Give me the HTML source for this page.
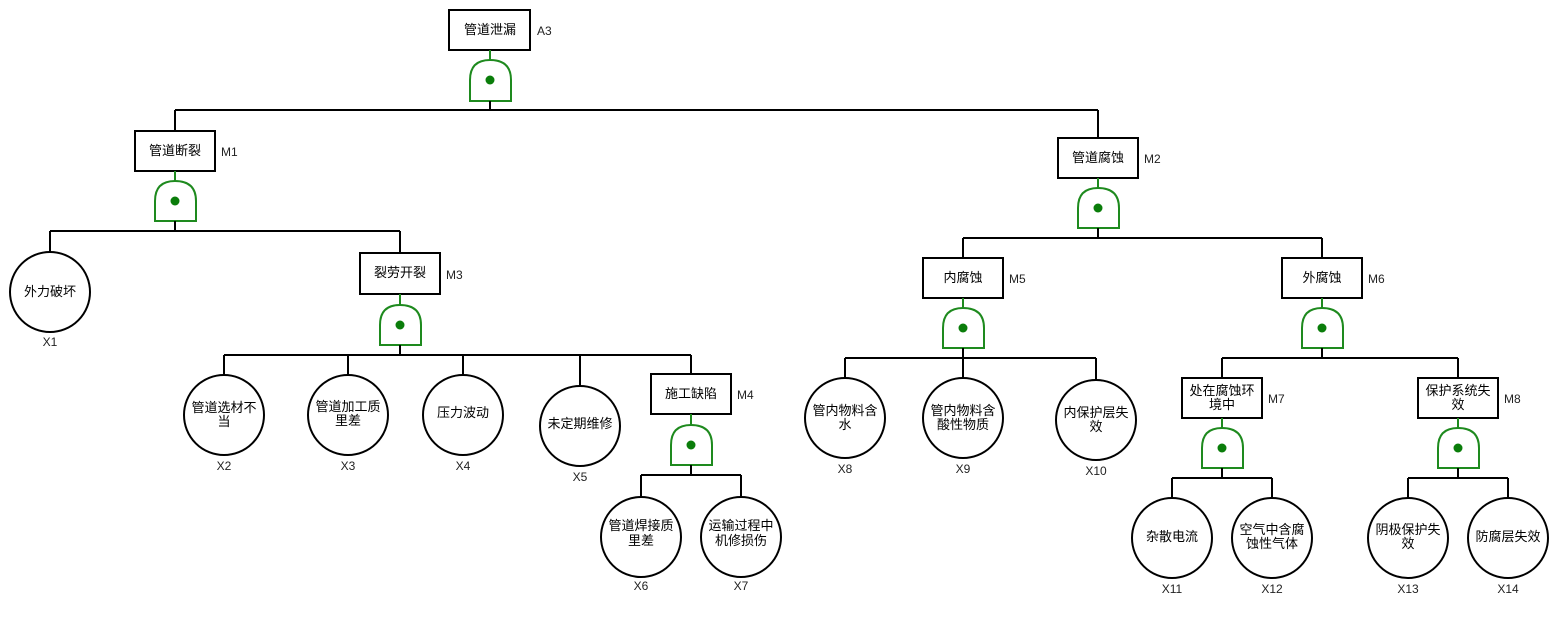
<!DOCTYPE html>
<html><head><meta charset="utf-8"><style>
html,body{margin:0;padding:0;background:#fff;}
svg{display:block;font-family:"Liberation Sans","Noto Sans CJK SC",sans-serif;}
.b{fill:#fff;stroke:#000;stroke-width:2}
.l{stroke:#000;stroke-width:2;fill:none}
.g{fill:#fff;stroke:#1e8a1e;stroke-width:2}
.gl{stroke:#1e8a1e;stroke-width:2}
.d{fill:#0a7d0a}
text{font-size:13px;fill:#000}
.c{text-anchor:middle}
.s{font-size:12px;fill:#222}
</style></head><body>
<svg width="1558" height="638" viewBox="0 0 1558 638">
<!-- A3 -->
<rect class="b" x="449" y="10" width="81" height="40"/>
<text class="c" x="490" y="34">管道泄漏</text><text class="s" x="537" y="35">A3</text>
<line class="gl" x1="490" y1="50" x2="490" y2="60"/>
<path class="g" d="M470,101 V80 Q470,60 490,60 Q511,60 511,80 V101 Z"/><circle class="d" cx="490" cy="80" r="4.5"/>
<line class="l" x1="490" y1="101" x2="490" y2="110"/>
<line class="l" x1="175" y1="110" x2="1098" y2="110"/>
<line class="l" x1="175" y1="110" x2="175" y2="131"/>
<line class="l" x1="1098" y1="110" x2="1098" y2="138"/>
<!-- M1 -->
<rect class="b" x="135" y="131" width="80" height="40"/>
<text class="c" x="175" y="155">管道断裂</text><text class="s" x="221" y="156">M1</text>
<line class="gl" x1="175" y1="171" x2="175" y2="181"/>
<path class="g" d="M155,221 V201 Q155,181 175,181 Q196,181 196,201 V221 Z"/><circle class="d" cx="175" cy="201" r="4.5"/>
<line class="l" x1="175" y1="221" x2="175" y2="231"/>
<line class="l" x1="50" y1="231" x2="400" y2="231"/>
<line class="l" x1="50" y1="231" x2="50" y2="252"/>
<line class="l" x1="400" y1="231" x2="400" y2="253"/>
<circle class="b" cx="50" cy="292" r="40"/><text class="c" x="50" y="296">外力破坏</text><text class="s c" x="50" y="346">X1</text>
<!-- M3 -->
<rect class="b" x="360" y="253" width="80" height="41"/>
<text class="c" x="400" y="277">裂劳开裂</text><text class="s" x="446" y="279">M3</text>
<line class="gl" x1="400" y1="294" x2="400" y2="305"/>
<path class="g" d="M380,345 V325 Q380,305 400,305 Q421,305 421,325 V345 Z"/><circle class="d" cx="400" cy="325" r="4.5"/>
<line class="l" x1="400" y1="345" x2="400" y2="355"/>
<line class="l" x1="224" y1="355" x2="691" y2="355"/>
<line class="l" x1="224" y1="355" x2="224" y2="375"/>
<line class="l" x1="348" y1="355" x2="348" y2="375"/>
<line class="l" x1="463" y1="355" x2="463" y2="375"/>
<line class="l" x1="580" y1="355" x2="580" y2="386"/>
<line class="l" x1="691" y1="355" x2="691" y2="374"/>
<circle class="b" cx="224" cy="415" r="40"/><text class="c" x="224" y="412">管道选材不</text><text class="c" x="224" y="426">当</text><text class="s c" x="224" y="470">X2</text>
<circle class="b" cx="348" cy="415" r="40"/><text class="c" x="348" y="411">管道加工质</text><text class="c" x="348" y="425">里差</text><text class="s c" x="348" y="470">X3</text>
<circle class="b" cx="463" cy="415" r="40"/><text class="c" x="463" y="417">压力波动</text><text class="s c" x="463" y="470">X4</text>
<circle class="b" cx="580" cy="426" r="40"/><text class="c" x="580" y="428">未定期维修</text><text class="s c" x="580" y="481">X5</text>
<!-- M4 -->
<rect class="b" x="651" y="374" width="80" height="40"/>
<text class="c" x="691" y="398">施工缺陷</text><text class="s" x="737" y="399">M4</text>
<line class="gl" x1="691" y1="414" x2="691" y2="425"/>
<path class="g" d="M671,465 V445 Q671,425 691,425 Q712,425 712,445 V465 Z"/><circle class="d" cx="691" cy="445" r="4.5"/>
<line class="l" x1="691" y1="465" x2="691" y2="475"/>
<line class="l" x1="641" y1="475" x2="741" y2="475"/>
<line class="l" x1="641" y1="475" x2="641" y2="497"/>
<line class="l" x1="741" y1="475" x2="741" y2="497"/>
<circle class="b" cx="641" cy="537" r="40"/><text class="c" x="641" y="530">管道焊接质</text><text class="c" x="641" y="545">里差</text><text class="s c" x="641" y="590">X6</text>
<circle class="b" cx="741" cy="537" r="40"/><text class="c" x="741" y="530">运输过程中</text><text class="c" x="741" y="545">机修损伤</text><text class="s c" x="741" y="590">X7</text>
<!-- M2 -->
<rect class="b" x="1058" y="138" width="80" height="40"/>
<text class="c" x="1098" y="162">管道腐蚀</text><text class="s" x="1144" y="163">M2</text>
<line class="gl" x1="1098" y1="178" x2="1098" y2="188"/>
<path class="g" d="M1078,228 V208 Q1078,188 1098,188 Q1119,188 1119,208 V228 Z"/><circle class="d" cx="1098" cy="208" r="4.5"/>
<line class="l" x1="1098" y1="228" x2="1098" y2="238"/>
<line class="l" x1="963" y1="238" x2="1322" y2="238"/>
<line class="l" x1="963" y1="238" x2="963" y2="258"/>
<line class="l" x1="1322" y1="238" x2="1322" y2="258"/>
<!-- M5 -->
<rect class="b" x="923" y="258" width="80" height="40"/>
<text class="c" x="963" y="282">内腐蚀</text><text class="s" x="1009" y="283">M5</text>
<line class="gl" x1="963" y1="298" x2="963" y2="308"/>
<path class="g" d="M943,348 V328 Q943,308 963,308 Q984,308 984,328 V348 Z"/><circle class="d" cx="963" cy="328" r="4.5"/>
<line class="l" x1="963" y1="348" x2="963" y2="358"/>
<line class="l" x1="845" y1="358" x2="1096" y2="358"/>
<line class="l" x1="845" y1="358" x2="845" y2="378"/>
<line class="l" x1="963" y1="358" x2="963" y2="378"/>
<line class="l" x1="1096" y1="358" x2="1096" y2="380"/>
<circle class="b" cx="845" cy="418" r="40"/><text class="c" x="845" y="415">管内物料含</text><text class="c" x="845" y="429">水</text><text class="s c" x="845" y="473">X8</text>
<circle class="b" cx="963" cy="418" r="40"/><text class="c" x="963" y="415">管内物料含</text><text class="c" x="963" y="429">酸性物质</text><text class="s c" x="963" y="473">X9</text>
<circle class="b" cx="1096" cy="420" r="40"/><text class="c" x="1096" y="417">内保护层失</text><text class="c" x="1096" y="431">效</text><text class="s c" x="1096" y="475">X10</text>
<!-- M6 -->
<rect class="b" x="1282" y="258" width="80" height="40"/>
<text class="c" x="1322" y="282">外腐蚀</text><text class="s" x="1368" y="283">M6</text>
<line class="gl" x1="1322" y1="298" x2="1322" y2="308"/>
<path class="g" d="M1302,348 V328 Q1302,308 1322,308 Q1343,308 1343,328 V348 Z"/><circle class="d" cx="1322" cy="328" r="4.5"/>
<line class="l" x1="1322" y1="348" x2="1322" y2="358"/>
<line class="l" x1="1222" y1="358" x2="1458" y2="358"/>
<line class="l" x1="1222" y1="358" x2="1222" y2="378"/>
<line class="l" x1="1458" y1="358" x2="1458" y2="378"/>
<!-- M7 -->
<rect class="b" x="1182" y="378" width="80" height="40"/>
<text class="c" x="1222" y="395">处在腐蚀环</text><text class="c" x="1222" y="409">境中</text><text class="s" x="1268" y="403">M7</text>
<line class="gl" x1="1222" y1="418" x2="1222" y2="428"/>
<path class="g" d="M1202,468 V448 Q1202,428 1222,428 Q1243,428 1243,448 V468 Z"/><circle class="d" cx="1222" cy="448" r="4.5"/>
<line class="l" x1="1222" y1="468" x2="1222" y2="478"/>
<line class="l" x1="1172" y1="478" x2="1272" y2="478"/>
<line class="l" x1="1172" y1="478" x2="1172" y2="498"/>
<line class="l" x1="1272" y1="478" x2="1272" y2="498"/>
<circle class="b" cx="1172" cy="538" r="40"/><text class="c" x="1172" y="541">杂散电流</text><text class="s c" x="1172" y="593">X11</text>
<circle class="b" cx="1272" cy="538" r="40"/><text class="c" x="1272" y="534">空气中含腐</text><text class="c" x="1272" y="548">蚀性气体</text><text class="s c" x="1272" y="593">X12</text>
<!-- M8 -->
<rect class="b" x="1418" y="378" width="80" height="40"/>
<text class="c" x="1458" y="395">保护系统失</text><text class="c" x="1458" y="409">效</text><text class="s" x="1504" y="403">M8</text>
<line class="gl" x1="1458" y1="418" x2="1458" y2="428"/>
<path class="g" d="M1438,468 V448 Q1438,428 1458,428 Q1479,428 1479,448 V468 Z"/><circle class="d" cx="1458" cy="448" r="4.5"/>
<line class="l" x1="1458" y1="468" x2="1458" y2="478"/>
<line class="l" x1="1408" y1="478" x2="1508" y2="478"/>
<line class="l" x1="1408" y1="478" x2="1408" y2="498"/>
<line class="l" x1="1508" y1="478" x2="1508" y2="498"/>
<circle class="b" cx="1408" cy="538" r="40"/><text class="c" x="1408" y="534">阴极保护失</text><text class="c" x="1408" y="548">效</text><text class="s c" x="1408" y="593">X13</text>
<circle class="b" cx="1508" cy="538" r="40"/><text class="c" x="1508" y="541">防腐层失效</text><text class="s c" x="1508" y="593">X14</text>
</svg>
</body></html>
